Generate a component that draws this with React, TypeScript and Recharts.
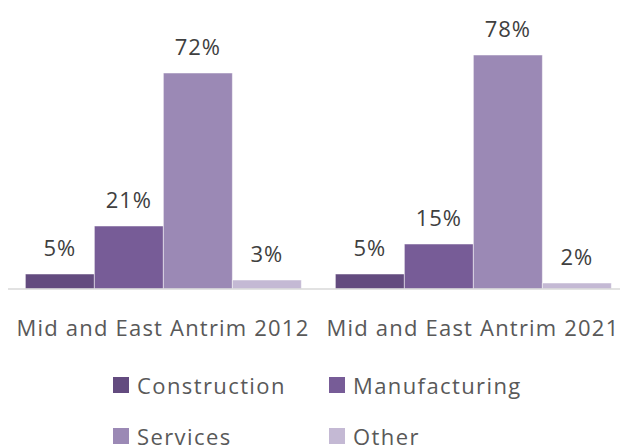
import { BarChart, Bar, XAxis, YAxis, LabelList, Legend } from 'recharts';

const categories = ['Mid and East Antrim 2012', 'Mid and East Antrim 2021'];
const seriesNames = ['Construction', 'Manufacturing', 'Services', 'Other'];
const construction = [5, 5];
const manufacturing = [21, 15];
const services = [72, 78];
const other = [3, 2];

const COLORS = ['#634b7f', '#775c97', '#9b89b5', '#c4b9d4'];
const FONT = "'Open Sans', sans-serif";

const data = categories.map((name, i) => ({
  name,
  Construction: construction[i],
  Manufacturing: manufacturing[i],
  Services: services[i],
  Other: other[i],
}));

// legend laid out in two columns, like the original
const LegendBox = () => (
  <div
    style={{
      height: 99,
      display: 'grid',
      gridTemplateColumns: '216px 216px',
      rowGap: 27,
      paddingLeft: 105,
      paddingTop: 24,
      boxSizing: 'border-box',
      fontFamily: FONT,
      fontSize: 22,
      letterSpacing: 1.4,
      color: '#595959',
    }}
  >
    {seriesNames.map((n, i) => (
      <div key={n} style={{ display: 'flex', alignItems: 'center', height: 24, lineHeight: '24px' }}>
        <span style={{ width: 16, height: 16, background: COLORS[i], marginRight: 8, display: 'inline-block' }} />
        {n}
      </div>
    ))}
  </div>
);

export default function App() {
  return (
    <div style={{ position: 'absolute', left: 0, top: 0, width: 620, height: 448, overflow: 'hidden' }}>
      <BarChart
        width={640}
        height={448}
        data={data}
        margin={{ top: 49, right: 12, bottom: 0, left: 8 }}
        barCategoryGap="5.6%"
        barGap={0}
      >
        <XAxis
          dataKey="name"
          axisLine={{ stroke: '#d9d9d9', strokeWidth: 1.5 }}
          tickLine={false}
          height={60}
          tickMargin={25}
          interval={0}
          tick={{ fontSize: 22, fill: '#595959', fontFamily: FONT, letterSpacing: 1.2 }}
        />
        <YAxis hide domain={[0, 80]} />
        <Legend verticalAlign="bottom" content={<LegendBox />} />
        {seriesNames.map((s, i) => (
          <Bar key={s} dataKey={s} fill={COLORS[i]} stroke="#ffffff" strokeWidth={0.5} isAnimationActive={false}>
            <LabelList
              dataKey={s}
              position="top"
              offset={18}
              formatter={(v: number) => `${v}%`}
              style={{ fontSize: 22, fill: '#404040', fontFamily: FONT, letterSpacing: 1 }}
            />
          </Bar>
        ))}
      </BarChart>
    </div>
  );
}
